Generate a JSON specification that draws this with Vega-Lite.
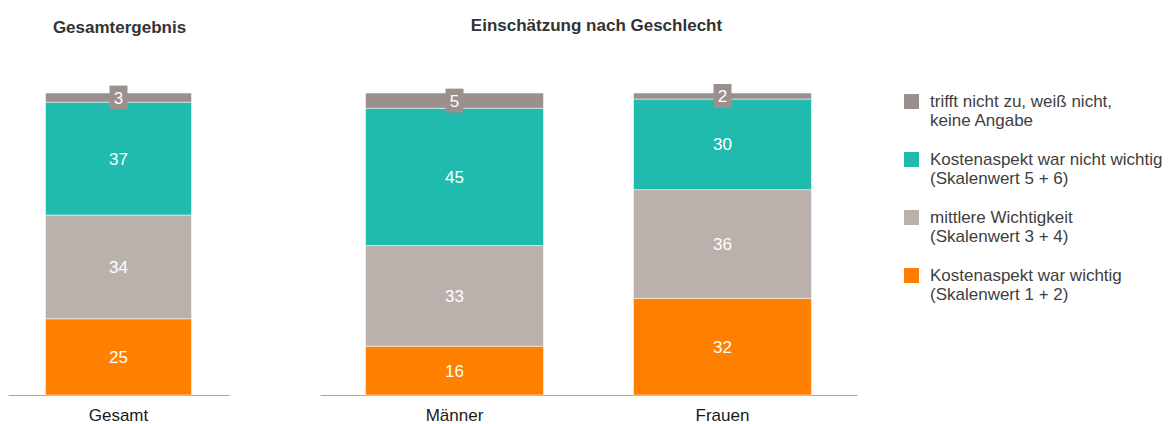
{
  "$schema": "https://vega.github.io/schema/vega-lite/v6.json",
  "padding": {"left": 8, "top": 17, "right": 0, "bottom": 0},
  "background": "white",
  "config": {
    "font": "Liberation Sans",
    "view": {"stroke": null},
    "concat": {"spacing": 91},
    "legend": {"padding": 0}
  },
  "datasets": {
    "werte": [
      {"panel": "links", "gruppe": "Gesamt", "kategorie": "Kostenaspekt war wichtig|(Skalenwert 1 + 2)", "rang": 1, "wert": 25},
      {"panel": "links", "gruppe": "Gesamt", "kategorie": "mittlere Wichtigkeit|(Skalenwert 3 + 4)", "rang": 2, "wert": 34},
      {"panel": "links", "gruppe": "Gesamt", "kategorie": "Kostenaspekt war nicht wichtig|(Skalenwert 5 + 6)", "rang": 3, "wert": 37},
      {"panel": "links", "gruppe": "Gesamt", "kategorie": "trifft nicht zu, weiß nicht,|keine Angabe", "rang": 4, "wert": 3},
      {"panel": "rechts", "gruppe": "Männer", "kategorie": "Kostenaspekt war wichtig|(Skalenwert 1 + 2)", "rang": 1, "wert": 16},
      {"panel": "rechts", "gruppe": "Männer", "kategorie": "mittlere Wichtigkeit|(Skalenwert 3 + 4)", "rang": 2, "wert": 33},
      {"panel": "rechts", "gruppe": "Männer", "kategorie": "Kostenaspekt war nicht wichtig|(Skalenwert 5 + 6)", "rang": 3, "wert": 45},
      {"panel": "rechts", "gruppe": "Männer", "kategorie": "trifft nicht zu, weiß nicht,|keine Angabe", "rang": 4, "wert": 5},
      {"panel": "rechts", "gruppe": "Frauen", "kategorie": "Kostenaspekt war wichtig|(Skalenwert 1 + 2)", "rang": 1, "wert": 32},
      {"panel": "rechts", "gruppe": "Frauen", "kategorie": "mittlere Wichtigkeit|(Skalenwert 3 + 4)", "rang": 2, "wert": 36},
      {"panel": "rechts", "gruppe": "Frauen", "kategorie": "Kostenaspekt war nicht wichtig|(Skalenwert 5 + 6)", "rang": 3, "wert": 30},
      {"panel": "rechts", "gruppe": "Frauen", "kategorie": "trifft nicht zu, weiß nicht,|keine Angabe", "rang": 4, "wert": 2}
    ]
  },
  "hconcat": [
    {
      "width": 221,
      "height": 302,
      "data": {"name": "werte"},
      "title": {"text": "Gesamtergebnis", "fontSize": 17, "fontWeight": "bold", "color": "#333333", "offset": 49, "anchor": "middle", "dx": 1},
      "transform": [
        {"filter": "datum.panel === 'links'"},
        {"stack": "wert", "groupby": ["gruppe"], "sort": [{"field": "rang", "order": "ascending"}], "offset": "normalize", "as": ["y0", "y1"]},
        {"calculate": "(datum.y0 + datum.y1) / 2", "as": "ymid"}
      ],
      "encoding": {
        "x": {
          "field": "gruppe", "type": "nominal", "sort": null,
          "scale": {"paddingInner": 0, "paddingOuter": 0.257},
          "axis": {"title": null, "labelAngle": 0, "ticks": false, "domainColor": "#a6a6a6", "domainWidth": 1, "labelFontSize": 17, "labelColor": "#1a1a1a", "labelPadding": 12}
        }
      },
      "layer": [
        {
          "mark": {"type": "bar", "stroke": "white", "strokeWidth": 0.5},
          "encoding": {
            "y": {"field": "y0", "type": "quantitative", "scale": {"domain": [0, 1]}, "axis": null},
            "y2": {"field": "y1"},
            "color": {
              "field": "kategorie", "type": "nominal",
              "scale": {
                "domain": ["trifft nicht zu, weiß nicht,|keine Angabe", "Kostenaspekt war nicht wichtig|(Skalenwert 5 + 6)", "mittlere Wichtigkeit|(Skalenwert 3 + 4)", "Kostenaspekt war wichtig|(Skalenwert 1 + 2)"],
                "range": ["#9c908f", "#20bbae", "#bab1ac", "#ff7f00"]
              },
              "legend": {
                "title": null, "orient": "right", "offset": 46,
                "symbolType": "square", "symbolSize": 225, "symbolStrokeWidth": 0,
                "labelFontSize": 17, "labelColor": "#404040", "labelLimit": 400,
                "labelExpr": "split(datum.label, '|')", "labelOffset": 10,
                "rowPadding": 21, "labelBaseline": "middle",
                "encode": {"labels": {"update": {"dy": {"value": 11}, "lineHeight": {"value": 22}}}}
              }
            }
          }
        },
        {
          "transform": [{"filter": "datum.rang === 4"}],
          "mark": {"type": "point", "shape": "M-0.75,-1L0.75,-1L0.75,1L-0.75,1Z", "size": 576, "filled": true, "opacity": 1, "color": "#9c908f", "strokeWidth": 0},
          "encoding": {"y": {"field": "ymid", "type": "quantitative"}}
        },
        {
          "mark": {"type": "text", "color": "white", "fontSize": 17, "dy": 1},
          "encoding": {"y": {"field": "ymid", "type": "quantitative"}, "text": {"field": "wert"}}
        }
      ]
    },
    {
      "width": 537,
      "height": 302,
      "data": {"name": "werte"},
      "title": {"text": "Einschätzung nach Geschlecht", "fontSize": 17, "fontWeight": "bold", "color": "#333333", "offset": 49, "anchor": "middle", "dx": 8},
      "transform": [
        {"filter": "datum.panel === 'rechts'"},
        {"stack": "wert", "groupby": ["gruppe"], "sort": [{"field": "rang", "order": "ascending"}], "offset": "normalize", "as": ["y0", "y1"]},
        {"calculate": "(datum.y0 + datum.y1) / 2", "as": "ymid"}
      ],
      "encoding": {
        "x": {
          "field": "gruppe", "type": "nominal", "sort": null,
          "scale": {"paddingInner": 0.336, "paddingOuter": 0.17},
          "axis": {"title": null, "labelAngle": 0, "ticks": false, "domainColor": "#a6a6a6", "domainWidth": 1, "labelFontSize": 17, "labelColor": "#1a1a1a", "labelPadding": 12}
        }
      },
      "layer": [
        {
          "mark": {"type": "bar", "stroke": "white", "strokeWidth": 0.5},
          "encoding": {
            "y": {"field": "y0", "type": "quantitative", "scale": {"domain": [0, 1]}, "axis": null},
            "y2": {"field": "y1"},
            "color": {"field": "kategorie", "type": "nominal"}
          }
        },
        {
          "transform": [{"filter": "datum.rang === 4"}],
          "mark": {"type": "point", "shape": "M-0.75,-1L0.75,-1L0.75,1L-0.75,1Z", "size": 576, "filled": true, "opacity": 1, "color": "#9c908f", "strokeWidth": 0},
          "encoding": {"y": {"field": "ymid", "type": "quantitative"}}
        },
        {
          "mark": {"type": "text", "color": "white", "fontSize": 17, "dy": 1},
          "encoding": {"y": {"field": "ymid", "type": "quantitative"}, "text": {"field": "wert"}}
        }
      ]
    }
  ],
  "resolve": {"scale": {"color": "shared"}}
}
